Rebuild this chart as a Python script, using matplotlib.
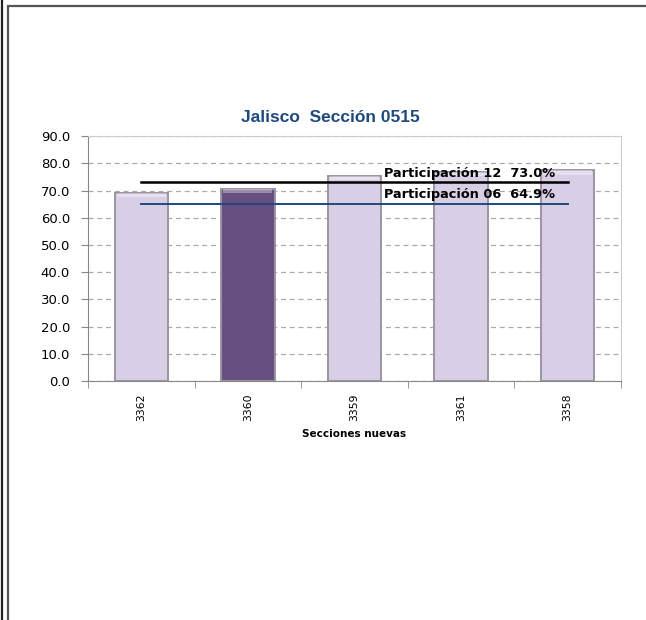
import matplotlib
matplotlib.use("Agg")
import matplotlib.pyplot as plt
from matplotlib.patches import Rectangle
from matplotlib.lines import Line2D

secciones = ["3362", "3360", "3359", "3361", "3358"]
participacion = [69.2, 70.7, 75.3, 76.9, 77.4]
destacada = "3360"
part_12 = 73.0
part_06 = 64.9

claro = "#D8CFE7"
oscuro = "#674F82"
azul = "#1F497D"

fig = plt.figure(figsize=(6.46, 6.2), dpi=100)

# marco doble alrededor del grafico
fig.add_artist(Line2D([0.003, 0.003], [0, 1], color="#222222", lw=1.6))
fig.add_artist(Rectangle((0.012, -0.01), 1.0, 1.0, fill=False,
                         edgecolor="#555555", lw=1.6, transform=fig.transFigure))

ax = fig.add_axes([0.1362, 0.3855, 0.825, 0.395])

x = range(len(secciones))
colores = [oscuro if s == destacada else claro for s in secciones]
ax.bar(x, participacion, width=0.5, color=colores, edgecolor="#9A95A0",
       linewidth=1.4, zorder=2)
# brillo en la tapa de cada barra
tapa = 1.6
ax.bar(x, [tapa] * len(secciones), bottom=[v - tapa for v in participacion],
       width=0.46, color="white", alpha=0.35, linewidth=0, zorder=2)

ax.plot([0, len(secciones) - 1], [part_12, part_12], color="black", lw=1.8, zorder=3)
ax.plot([0, len(secciones) - 1], [part_06, part_06], color=azul, lw=1.4, zorder=3)
ax.text(3.08, part_12 + 1.0, "Participación 12  %.1f%%" % part_12, ha="center",
        va="bottom", fontsize=9.3, fontweight="bold", zorder=4)
ax.text(3.08, part_06 + 1.2, "Participación 06  %.1f%%" % part_06, ha="center",
        va="bottom", fontsize=9.3, fontweight="bold", zorder=4)

ax.set_xlim(-0.5, len(secciones) - 0.5)
ax.set_ylim(0, 90)
ax.set_yticks(range(0, 91, 10))
ax.set_yticklabels(["%.1f" % v for v in range(0, 91, 10)], fontsize=9.5)
ax.set_xticks(x)
ax.set_xticklabels(secciones, rotation=90, fontsize=7.8)
ax.set_xticks([i - 0.5 for i in range(len(secciones) + 1)], minor=True)
ax.tick_params(axis="x", which="major", length=0, pad=9)
ax.tick_params(axis="x", which="minor", length=5, color="#888888")
ax.tick_params(axis="y", length=5, color="#888888", pad=8)

ax.grid(axis="y", linestyle=(0, (4, 3)), color="#AAAAAA", lw=0.9, zorder=0)
for lado in ["top", "right"]:
    ax.spines[lado].set_color("#CCCCCC")
for lado in ["left", "bottom"]:
    ax.spines[lado].set_color("#888888")

ax.set_xlabel("Secciones nuevas", fontsize=7.5, fontweight="bold", labelpad=6)
fig.text(0.512, 0.81, "Jalisco  Sección 0515", ha="center", va="center",
         fontsize=12.5, fontweight="bold", color=azul, family="Liberation Sans")

fig.savefig("out.png", dpi=100)
